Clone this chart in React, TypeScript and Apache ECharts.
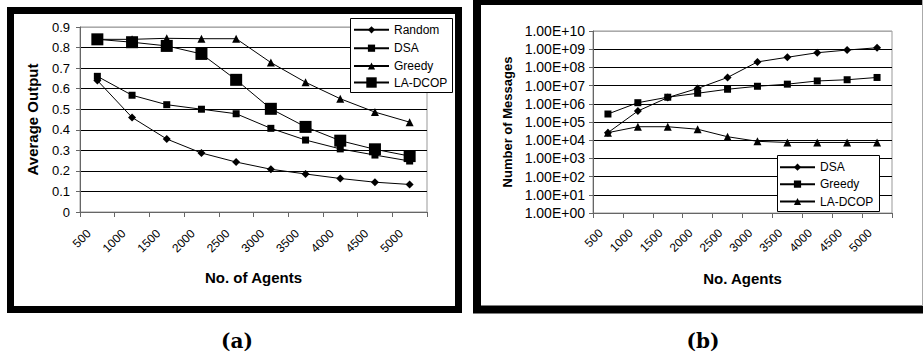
import React, { useEffect, useRef } from "react";
import * as echarts from "echarts";

const agentCategories = ["500", "1000", "1500", "2000", "2500", "3000", "3500", "4000", "4500", "5000"];

const outputRandom = [0.64, 0.46, 0.355, 0.287, 0.243, 0.208, 0.185, 0.163, 0.145, 0.134];
const outputDSA = [0.66, 0.568, 0.522, 0.5, 0.478, 0.407, 0.35, 0.307, 0.277, 0.248];
const outputGreedy = [0.84, 0.84, 0.845, 0.843, 0.843, 0.727, 0.631, 0.551, 0.486, 0.437];
const outputLADCOP = [0.84, 0.826, 0.808, 0.769, 0.643, 0.502, 0.414, 0.347, 0.305, 0.272];

const messagesDSA = [2.6e4, 4e5, 2.2e6, 7e6, 2.8e7, 2e8, 3.6e8, 6.4e8, 9e8, 1.2e9];
const messagesGreedy = [2.75e5, 1.15e6, 2.3e6, 3.8e6, 6.3e6, 9.2e6, 1.2e7, 1.8e7, 2.1e7, 2.8e7];
const messagesLADCOP = [2.6e4, 5.5e4, 5.5e4, 4e4, 1.55e4, 8.7e3, 7.5e3, 7.5e3, 7.5e3, 7.5e3];

const SANS = "'Liberation Sans', Arial, sans-serif";

function legendItem(name: string, left: number, centerY: number, itemHeight: number) {
  return {
    data: [name],
    left,
    top: centerY - itemHeight / 2,
    orient: "vertical",
    padding: 0,
    itemWidth: 35,
    itemHeight,
    selectedMode: false,
    z: 6,
    textStyle: { fontSize: 12, color: "#000", fontFamily: SANS },
  };
}

function lineSeries(name: string, data: number[], symbol: string, size: number, xi: number) {
  return {
    type: "line",
    name,
    data,
    xAxisIndex: xi,
    yAxisIndex: xi,
    symbol,
    symbolSize: size,
    showAllSymbol: true,
    lineStyle: { color: "#000", width: 1 },
    itemStyle: { color: "#000", borderColor: "#000", borderWidth: 0 },
    emphasis: { disabled: true },
  };
}

const optionA: any = {
  animation: false,
  backgroundColor: "#fff",
  grid: {
    left: 80,
    top: 27,
    width: 347,
    height: 185,
    show: true,
    borderColor: "#999",
    borderWidth: 1,
    backgroundColor: "transparent",
  },
  xAxis: {
    type: "category",
    data: agentCategories,
    boundaryGap: true,
    name: "No. of Agents",
    nameLocation: "middle",
    nameGap: 58,
    nameTextStyle: { fontSize: 15, fontWeight: "bold", color: "#000", fontFamily: SANS },
    axisLine: { lineStyle: { color: "#666", width: 1 } },
    axisTick: { show: true, alignWithLabel: false, interval: 0, length: 5, lineStyle: { color: "#666" } },
    axisLabel: { rotate: 45, interval: 0, fontSize: 12, color: "#000", fontFamily: SANS, margin: 11, padding: [0, 12, 0, 0] },
    splitLine: { show: false },
  },
  yAxis: {
    type: "value",
    min: 0,
    max: 0.9,
    interval: 0.1,
    name: "Average Output",
    nameLocation: "middle",
    nameGap: 40,
    nameTextStyle: { fontSize: 15, fontWeight: "bold", color: "#000", fontFamily: SANS },
    axisLine: { show: true, lineStyle: { color: "#666", width: 1 } },
    axisTick: { show: true, length: 4, lineStyle: { color: "#666" } },
    axisLabel: { fontSize: 13, color: "#000", fontFamily: SANS, margin: 10 },
    splitLine: {
      show: true,
      lineStyle: { color: ["#666", "#000", "#000", "#000", "#000", "#000", "#000", "#000", "#000", "#aaa"], width: 1 },
    },
  },
  legend: [
    legendItem("Random", 353, 28.3, 9),
    legendItem("DSA", 353, 46.7, 9),
    legendItem("Greedy", 353, 64.5, 9),
    legendItem("LA-DCOP", 353, 83, 13),
  ],
  series: [
    lineSeries("Random", outputRandom, "diamond", 8, 0),
    lineSeries("DSA", outputDSA, "rect", 7, 0),
    lineSeries("Greedy", outputGreedy, "triangle", 8, 0),
    lineSeries("LA-DCOP", outputLADCOP, "rect", 12, 0),
  ],
  graphic: [
    {
      type: "rect",
      z: 5,
      shape: { x: 350.5, y: 18.5, width: 102, height: 74 },
      style: { fill: "#fff", stroke: "#000", lineWidth: 1 },
    },
    {
      type: "rect",
      z: 5,
      shape: { x: 10.5, y: 10.5, width: 448, height: 299 },
      style: { fill: "none", stroke: "#000", lineWidth: 7 },
    },
    {
      type: "text",
      z: 5,
      x: 237,
      y: 341,
      style: {
        text: "(a)",
        fontSize: 20,
        fontWeight: "bold",
        fontFamily: "'DejaVu Serif', serif",
        fill: "#000",
        textAlign: "center",
        textVerticalAlign: "middle",
      },
    },
  ],
};

const expLabel = (v: number) => {
  const e = Math.round(Math.log10(v));
  return "1.00E+" + (e < 10 ? "0" : "") + e;
};

const optionB: any = {
  animation: false,
  backgroundColor: "#fff",
  grid: {
    left: 127,
    top: 31,
    width: 299,
    height: 182,
    show: true,
    borderColor: "#999",
    borderWidth: 1,
    backgroundColor: "transparent",
  },
  xAxis: {
    type: "category",
    data: agentCategories,
    boundaryGap: true,
    name: "No. Agents",
    nameLocation: "middle",
    nameGap: 58,
    nameTextStyle: { fontSize: 15, fontWeight: "bold", color: "#000", fontFamily: SANS },
    axisLine: { lineStyle: { color: "#666", width: 1 } },
    axisTick: { show: true, alignWithLabel: false, interval: 0, length: 5, lineStyle: { color: "#666" } },
    axisLabel: { rotate: 45, interval: 0, fontSize: 12, color: "#000", fontFamily: SANS, margin: 11, padding: [0, 10, 0, 0] },
    splitLine: { show: false },
  },
  yAxis: {
    type: "log",
    logBase: 10,
    min: 1,
    max: 1e10,
    interval: 1,
    name: "Number of Messages",
    nameLocation: "middle",
    nameGap: 76,
    nameTextStyle: { fontSize: 13, fontWeight: "bold", color: "#000", fontFamily: SANS },
    axisLine: { show: true, lineStyle: { color: "#666", width: 1 } },
    axisTick: { show: true, length: 4, lineStyle: { color: "#666" } },
    axisLabel: { fontSize: 14, color: "#000", fontFamily: SANS, margin: 8, formatter: expLabel },
    minorTick: { show: false },
    splitLine: {
      show: true,
      lineStyle: { color: ["#666", "#000", "#000", "#000", "#000", "#000", "#000", "#000", "#000", "#000", "#aaa"], width: 1 },
    },
  },
  legend: [
    legendItem("DSA", 313, 165.7, 9),
    legendItem("Greedy", 313, 182.7, 9),
    legendItem("LA-DCOP", 313, 200, 9),
  ],
  series: [
    lineSeries("DSA", messagesDSA, "diamond", 8, 0),
    lineSeries("Greedy", messagesGreedy, "rect", 7, 0),
    lineSeries("LA-DCOP", messagesLADCOP, "triangle", 8, 0),
  ],
  graphic: [
    {
      type: "rect",
      z: 5,
      shape: { x: 311.5, y: 155.5, width: 102, height: 56 },
      style: { fill: "#fff", stroke: "#000", lineWidth: 1 },
    },
    {
      type: "rect",
      z: 5,
      shape: { x: 11, y: 1, width: 470, height: 308.5 },
      style: { fill: "none", stroke: "#000", lineWidth: 8 },
    },
    {
      type: "line",
      z: 5,
      shape: { x1: 456.5, y1: 0, x2: 456.5, y2: 306 },
      style: { stroke: "#aaa", lineWidth: 1 },
    },
    {
      type: "text",
      z: 5,
      x: 237,
      y: 341,
      style: {
        text: "(b)",
        fontSize: 20,
        fontWeight: "bold",
        fontFamily: "'DejaVu Serif', serif",
        fill: "#000",
        textAlign: "center",
        textVerticalAlign: "middle",
      },
    },
  ],
};

function ChartPanel({ option, style }: { option: any; style: React.CSSProperties }) {
  const ref = useRef<HTMLDivElement>(null);
  useEffect(() => {
    if (!ref.current) return;
    const chart = echarts.init(ref.current, undefined, { renderer: "svg" });
    chart.setOption(option);
    return () => chart.dispose();
  }, [option]);
  return <div ref={ref} style={style} />;
}

export default function App() {
  return (
    <div style={{ position: "fixed", left: 0, top: 0, width: 923, height: 358, background: "#fff", overflow: "hidden" }}>
      <ChartPanel option={optionA} style={{ position: "absolute", left: 0, top: 0, width: 466, height: 358 }} />
      <ChartPanel option={optionB} style={{ position: "absolute", left: 466, top: 0, width: 457, height: 358 }} />
    </div>
  );
}
